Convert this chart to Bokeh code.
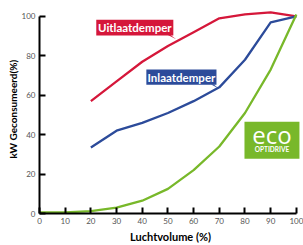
from bokeh.plotting import figure
from bokeh.models import Range1d, Title
from bokeh.core.properties import value
from bokeh.embed import file_html
from bokeh.resources import INLINE

# ---- data ----
airflow_all = [0, 10, 20, 30, 40, 50, 60, 70, 80, 90, 100]
airflow_damper = [20, 30, 40, 50, 60, 70, 80, 90, 100]
uitlaatdemper = [57, 67, 77, 85, 92, 99, 101, 102, 100]
inlaatdemper = [33.5, 42, 46, 51, 57, 64, 78, 97, 100]
eco_optidrive = [0.5, 0.6, 1.2, 3, 6.5, 12.5, 22, 34, 51, 73, 101]
x_ticks = [0, 10, 20, 30, 40, 50, 60, 70, 80, 90, 100]
y_ticks = [0, 20, 40, 60, 80, 100]

RED = "#d5173a"
BLUE = "#2c4b9a"
GREEN = "#78b82a"
FONT = "Lato"

p = figure(width=303, height=245, x_range=Range1d(0, 102), y_range=Range1d(0, 104),
           output_backend="svg", toolbar_location=None,
           min_border_left=39, min_border_right=2, min_border_top=8, min_border_bottom=31)
p.outline_line_color = None
p.xgrid.visible = False
p.ygrid.visible = False
p.background_fill_color = "white"

for ax, ticks in ((p.xaxis[0], x_ticks), (p.yaxis[0], y_ticks)):
    ax.ticker = ticks
    ax.bounds = (0, 100)
    ax.major_tick_in = 6
    ax.major_tick_out = 0
    ax.minor_tick_line_color = None
    ax.axis_line_width = 2
    ax.axis_line_color = "black"
    ax.major_tick_line_width = 2
    ax.major_tick_line_color = "black"
    ax.major_label_text_font_size = "8px"
    ax.major_label_text_color = "#555555"
    ax.major_label_text_font = FONT
    ax.major_label_standoff = 4

p.xaxis.axis_label = "Luchtvolume (%)"
p.xaxis.axis_label_text_font = FONT
p.xaxis.axis_label_text_font_style = "bold"
p.xaxis.axis_label_text_font_size = "11px"
p.xaxis.axis_label_text_color = "black"
p.xaxis.axis_label_standoff = 3

p.add_layout(Title(text="kW Geconsumeerd(%)", align="left", offset=55, standoff=0,
                   text_font=FONT, text_font_style="bold", text_font_size="10px",
                   text_color="black"), "left")

# data lines
p.line(airflow_damper, uitlaatdemper, line_color=RED, line_width=2.3)
p.line(airflow_damper, inlaatdemper, line_color=BLUE, line_width=2.3)
p.line(airflow_all, eco_optidrive, line_color=GREEN, line_width=2.3)

# callout boxes
p.quad(left=[22.1], right=[52.1], bottom=[90.3], top=[98.3], fill_color=RED, line_color=None)
p.patch([51.0, 53.2, 50.0], [90.5, 88.4, 90.5], fill_color=RED, line_color=None)
p.text(x=[37.1], y=[94.3], text=["Uitlaatdemper"], text_color="white",
       text_font=value(FONT), text_font_style="bold", text_font_size="11.5px",
       text_align="center", text_baseline="middle")

p.quad(left=[41.6], right=[68.9], bottom=[65.3], top=[73.1], fill_color=BLUE, line_color=None)
p.patch([67.8, 69.8, 66.8], [65.5, 63.4, 65.5], fill_color=BLUE, line_color=None)
p.text(x=[55.25], y=[69.2], text=["Inlaatdemper"], text_color="white",
       text_font=value(FONT), text_font_style="bold", text_font_size="11.5px",
       text_align="center", text_baseline="middle")

# eco optidrive logo
p.quad(left=[79.8], right=[101.2], bottom=[27.8], top=[46.5], fill_color=GREEN, line_color=None)
p.text(x=[90.5], y=[40.0], text=["eco"], text_color="white",
       text_font=value("Open Sans"), text_font_size="24px",
       text_align="center", text_baseline="middle")
p.text(x=[90.5], y=[32.4], text=["OPTIDRIVE"], text_color="white",
       text_font=value(FONT), text_font_style="bold", text_font_size="6.5px",
       text_align="center", text_baseline="middle")

open("out.html", "w").write(file_html(p, INLINE))
